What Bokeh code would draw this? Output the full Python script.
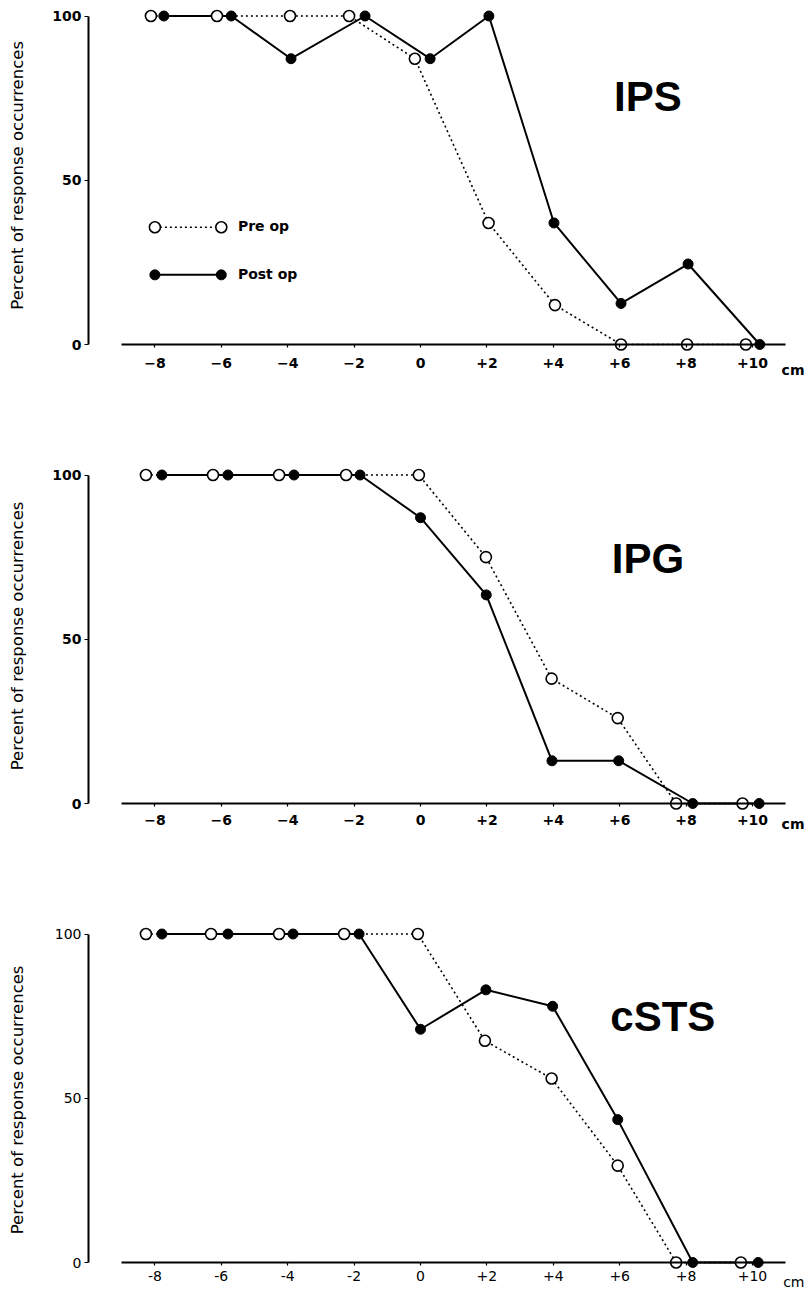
import math
from bokeh.plotting import figure
from bokeh.layouts import column
from bokeh.models import Range1d, FixedTicker, Label
from bokeh.embed import file_html
from bokeh.resources import INLINE

# ---------------- data ----------------
x_ticks = [-8, -6, -4, -2, 0, 2, 4, 6, 8, 10]
x_labels_bold = ["\u22128", "\u22126", "\u22124", "\u22122", "0", "+2", "+4", "+6", "+8", "+10"]
x_labels_plain = ["-8", "-6", "-4", "-2", "0", "+2", "+4", "+6", "+8", "+10"]
y_ticks = [0, 50, 100]
panel_names = ["IPS", "IPG", "cSTS"]
series_names = ["Pre op", "Post op"]
y_axis_title = "Percent of response occurrences"
x_unit = "cm"

# IPS
ips_pre_x = [-8.12, -6.13, -3.93, -2.15, -0.17, 2.05, 4.05, 6.04, 8.03, 9.8]
ips_pre_y = [100, 100, 100, 100, 87, 37, 12, 0, 0, 0]
ips_post_x = [-7.73, -5.7, -3.9, -1.67, 0.29, 2.06, 4.02, 6.04, 8.06, 10.22]
ips_post_y = [100, 100, 87, 100, 87, 100, 37, 12.5, 24.5, 0]

# IPG
ipg_pre_x = [-8.27, -6.25, -4.26, -2.24, -0.05, 1.97, 3.95, 5.94, 7.7, 9.7]
ipg_pre_y = [100, 100, 100, 100, 100, 75, 38, 26, 0, 0]
ipg_post_x = [-7.79, -5.8, -3.81, -1.82, 0.0, 1.98, 3.96, 5.97, 8.2, 10.2]
ipg_post_y = [100, 100, 100, 100, 87, 63.5, 13, 13, 0, 0]

# cSTS
csts_pre_x = [-8.27, -6.31, -4.26, -2.3, -0.08, 1.94, 3.95, 5.94, 7.7, 9.65]
csts_pre_y = [100, 100, 100, 100, 100, 67.5, 56, 29.5, 0, 0]
csts_post_x = [-7.79, -5.8, -3.84, -1.85, 0.0, 1.97, 3.98, 5.94, 8.2, 10.17]
csts_post_y = [100, 100, 100, 100, 71, 83, 78, 43.5, 0, 0]

panels = [
    (ips_pre_x, ips_pre_y, ips_post_x, ips_post_y),
    (ipg_pre_x, ipg_pre_y, ipg_post_x, ipg_post_y),
    (csts_pre_x, csts_pre_y, csts_post_x, csts_post_y),
]

# ---------------- layout / style ----------------
FONT = "DejaVu Sans"
PX_PER_CM = 33.2
PX_PER_UNIT = 3.285
PAGE_W = 806
AXIS_PX = 88     # page x of the vertical axis (x = -10 cm)
Y100_PX = 15.5   # px from figure top to the 100 line
Y0_PX = 344      # px from figure top to the 0 line
heights = [459, 459, 370]
bold_text = [True, True, False]
label_standoff = [10, 8, 5]
cm_offset = [-25, -20, -19]
title_pos = [(6.85, 75.4), (6.85, 74.5), (7.3, 74.9)]
ylabel_y = [51.5, 51.0, 49.5]

y_axis_at = -10.0
x0 = y_axis_at - AXIS_PX / PX_PER_CM
x1 = y_axis_at + (PAGE_W - AXIS_PX) / PX_PER_CM
x_cm = y_axis_at + (804 - AXIS_PX) / PX_PER_CM
x_ylabel = y_axis_at - (AXIS_PX - 17) / PX_PER_CM


def make_panel(i):
    pre_x, pre_y, post_x, post_y = panels[i]
    H = heights[i]
    y_end = 100 + Y100_PX / PX_PER_UNIT
    y_start = -(H - Y0_PX) / PX_PER_UNIT
    p = figure(frame_width=PAGE_W, frame_height=H,
               x_range=Range1d(x0, x1), y_range=Range1d(y_start, y_end),
               min_border_left=0, min_border_right=0,
               min_border_top=0, min_border_bottom=0,
               toolbar_location=None, output_backend="svg")
    p.outline_line_color = None
    p.grid.visible = False
    p.background_fill_color = "white"
    p.border_fill_color = "white"
    style = "bold" if bold_text[i] else "normal"

    # x axis at y = 0
    xa = p.xaxis[0]
    xa.fixed_location = 0
    xa.bounds = (-9, 11)
    xa.ticker = FixedTicker(ticks=x_ticks)
    labels = x_labels_bold if i < 2 else x_labels_plain
    xa.major_label_overrides = {t: l for t, l in zip(x_ticks, labels)}
    xa.axis_line_width = 1.8
    xa.axis_line_color = "black"
    xa.major_tick_in = 0
    xa.major_tick_out = 3
    xa.major_tick_line_width = 1.2
    xa.minor_tick_line_color = None
    xa.major_label_standoff = label_standoff[i]
    xa.major_label_text_font = FONT
    xa.major_label_text_font_size = "14px"
    xa.major_label_text_font_style = style
    xa.major_label_text_color = "black"

    # y axis at x = -10
    ya = p.yaxis[0]
    ya.fixed_location = y_axis_at
    ya.bounds = (0, 100)
    ya.ticker = FixedTicker(ticks=y_ticks)
    ya.axis_line_width = 2
    ya.axis_line_color = "black"
    ya.major_tick_in = 0
    ya.major_tick_out = 4
    ya.major_tick_line_width = 1.2
    ya.minor_tick_line_color = None
    ya.major_label_standoff = 3
    ya.major_label_text_font = FONT
    ya.major_label_text_font_size = "14px"
    ya.major_label_text_font_style = style
    ya.major_label_text_color = "black"

    # y axis title
    p.add_layout(Label(x=x_ylabel, y=ylabel_y[i], text=y_axis_title,
                       angle=math.pi / 2, text_align="center",
                       text_baseline="middle", text_font=FONT,
                       text_font_size="16.5px", text_color="black"))

    # series
    p.line(post_x, post_y, line_color="black", line_width=2)
    p.line(pre_x, pre_y, line_color="black", line_width=1.6, line_dash="2 3")
    p.scatter(post_x, post_y, marker="circle", size=10, fill_color="black",
              line_color="black", line_width=1)
    p.scatter(pre_x, pre_y, marker="circle", size=11, fill_color="white",
              line_color="black", line_width=1.6)

    # panel title
    tx, ty = title_pos[i]
    p.add_layout(Label(x=tx, y=ty, text=panel_names[i], text_align="center",
                       text_baseline="middle", text_font="Liberation Sans",
                       text_font_size="42px", text_font_style="bold",
                       text_color="black"))
    # unit
    p.add_layout(Label(x=x_cm, y=0, y_offset=cm_offset[i], text=x_unit,
                       text_align="right", text_baseline="middle",
                       text_font=FONT, text_font_size="14px",
                       text_font_style=style, text_color="black"))

    # legend (first panel only)
    if i == 0:
        leg_x = [-8.0, -6.0]
        leg_y = [35.7, 21.2]
        p.line(leg_x, [leg_y[0]] * 2, line_color="black", line_width=1.6,
               line_dash="2 3")
        p.scatter(leg_x, [leg_y[0]] * 2, marker="circle", size=11,
                  fill_color="white", line_color="black", line_width=1.6)
        p.line(leg_x, [leg_y[1]] * 2, line_color="black", line_width=2)
        p.scatter(leg_x, [leg_y[1]] * 2, marker="circle", size=10,
                  fill_color="black", line_color="black")
        for txt, yy in zip(series_names, leg_y):
            p.add_layout(Label(x=-5.5, y=yy, y_offset=1, text=txt,
                               text_align="left", text_baseline="middle",
                               text_font=FONT, text_font_size="14px",
                               text_font_style="bold", text_color="black"))
    return p


figs = [make_panel(i) for i in range(3)]
layout = column(*figs, spacing=0)
open("out.html", "w").write(file_html(layout, INLINE))
